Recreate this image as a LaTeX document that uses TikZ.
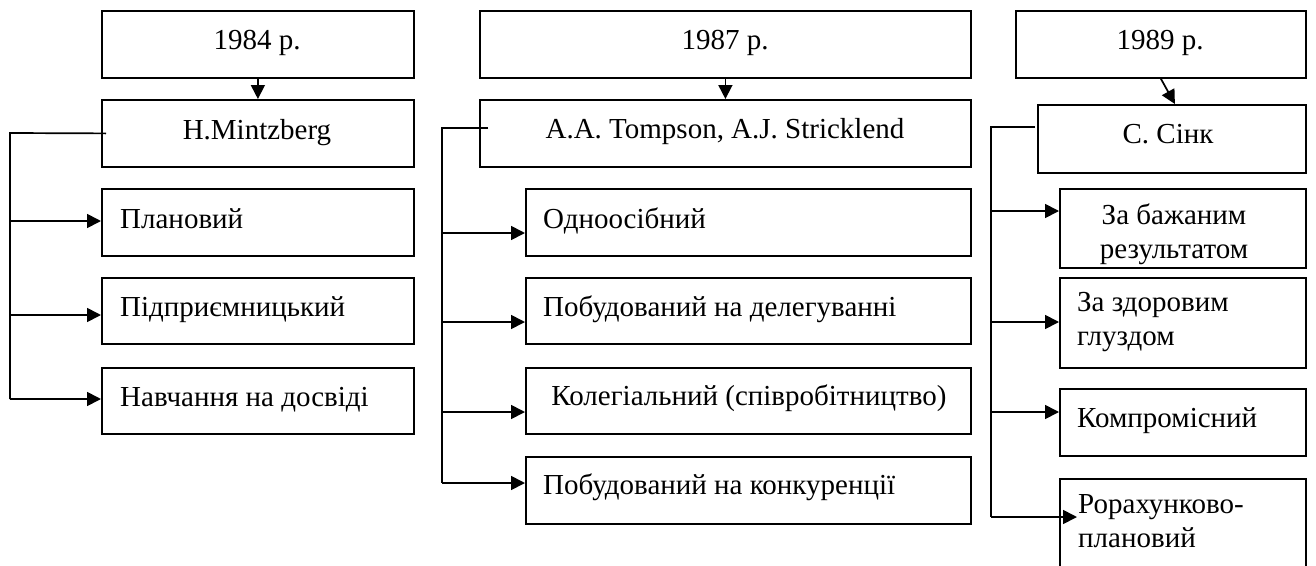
\documentclass[tikz,border=0pt]{standalone}
\usepackage{fontspec}
\setmainfont{Liberation Serif}
\usetikzlibrary{arrows.meta,positioning}
\tikzset{
  box/.style={draw, line width=1.8pt, inner sep=0pt, anchor=north west},
  txt/.style={inner sep=0pt, font=\fontsize{29}{34}\selectfont},
  line/.style={line width=1.7pt},
  arr/.style={line width=1.7pt, -{Triangle[length=14pt,width=14pt]}},
}
\newcommand{\bx}[5]{\node[box, minimum width=#4-#2, minimum height=#5-#3] (#1) at (#2,#3) {};}
\begin{document}
\begin{tikzpicture}[x=1pt,y=-1pt]
\useasboundingbox (0,0) rectangle (1316,565);
% ---------- left column
\bx{b1984}{101}{10}{413}{77}
\bx{mintz}{101}{99}{413}{166}
\bx{plan}{101}{188}{413}{255}
\bx{pidpr}{101}{277}{413}{343}
\bx{navch}{101}{367}{413}{433}
\node[txt, anchor=base] (t1984) at (257,49) {1984 р.};
\node[txt, anchor=base] (tmintz) at (257,139) {H.Mintzberg};
\node[txt, anchor=base west] (tplan) at (120,228) {Плановий};
\node[txt, anchor=base west] (tpidpr) at (120,316) {Підприємницький};
\node[txt, anchor=base west] (tnavch) at (120,406) {Навчання на досвіді};
% ---------- middle column
\bx{b1987}{479}{10}{970}{77}
\bx{tomp}{479}{99}{970}{166}
\bx{odno}{525}{188}{970}{255}
\bx{deleg}{525}{277}{970}{343}
\bx{koleg}{525}{367}{970}{433}
\bx{konk}{525}{456}{970}{523}
\node[txt, anchor=base] (t1987) at (725,49) {1987 р.};
\node[txt, anchor=base] (ttomp) at (725,138) {A.A. Tompson, A.J. Stricklend};
\node[txt, anchor=base west] (todno) at (543,228) {Одноосібний};
\node[txt, anchor=base west] (tdeleg) at (543,316) {Побудований на делегуванні};
\node[txt, anchor=base] (tkoleg) at (749,405) {Колегіальний (співробітництво)};
\node[txt, anchor=base west] (tkonk) at (543,494) {Побудований на конкуренції};
% ---------- right column
\bx{b1989}{1015}{10}{1305}{77}
\bx{sink}{1037}{104}{1305}{172}
\bx{bazh}{1059}{188}{1305}{267}
\bx{zdor}{1059}{277}{1305}{367}
\bx{komp}{1059}{388}{1305}{455}
\bx{ror}{1059}{478}{1305}{590}
\node[txt, anchor=base] (t1989) at (1160,49) {1989 р.};
\node[txt, anchor=base] (tsink) at (1168,143) {С. Сінк};
\node[txt, anchor=north, align=center] (tbazh) at (1174,204) {За бажаним\\результатом};
\node[txt, anchor=north west, align=left] (tzdor) at (1077,292) {За здоровим\\глуздом};
\node[txt, anchor=base west] (tkomp) at (1077,427) {Компромісний};
\node[txt, anchor=north west, align=left] (tror) at (1078,494) {Рорахунково-\\плановий};
% ---------- connectors left
\draw[arr] (b1984.south) -- (mintz.north);
\coordinate (lbTop) at (10,133);
\coordinate (lb1) at (10,221);
\coordinate (lb2) at (10,315);
\coordinate (lb3) at (10,399);
\draw[line] ([xshift=5pt]mintz.west) -- (lbTop) -- (lb3);
\draw[arr] (lb1) -- (lb1 -| plan.west);
\draw[arr] (lb2) -- (lb2 -| pidpr.west);
\draw[arr] (lb3) -- (lb3 -| navch.west);
% ---------- connectors middle
\draw[arr] (b1987.south -| tomp.north) -- (tomp.north);
\coordinate (mbTop) at (442,128);
\coordinate (mb1) at (442,233);
\coordinate (mb2) at (442,322);
\coordinate (mb3) at (442,412);
\coordinate (mb4) at (442,483);
\draw[line] ([xshift=9pt]tomp.west |- mbTop) -- (mbTop) -- (mb4);
\draw[arr] (mb1) -- (mb1 -| odno.west);
\draw[arr] (mb2) -- (mb2 -| deleg.west);
\draw[arr] (mb3) -- (mb3 -| koleg.west);
\draw[arr] (mb4) -- (mb4 -| konk.west);
% ---------- connectors right
\draw[arr] (b1989.south) -- ([xshift=3pt]sink.north);
\coordinate (rbTop) at (991,127);
\coordinate (rb1) at (991,211);
\coordinate (rb2) at (991,322);
\coordinate (rb3) at (991,412);
\coordinate (rb4) at (991,517);
\draw[line] ([xshift=-2pt]sink.west |- rbTop) -- (rbTop) -- (rb4);
\draw[arr] (rb1) -- (rb1 -| bazh.west);
\draw[arr] (rb2) -- (rb2 -| zdor.west);
\draw[arr] (rb3) -- (rb3 -| komp.west);
\draw[arr] (rb4) -- ([xshift=18pt]rb4 -| ror.west);
\end{tikzpicture}
\end{document}
